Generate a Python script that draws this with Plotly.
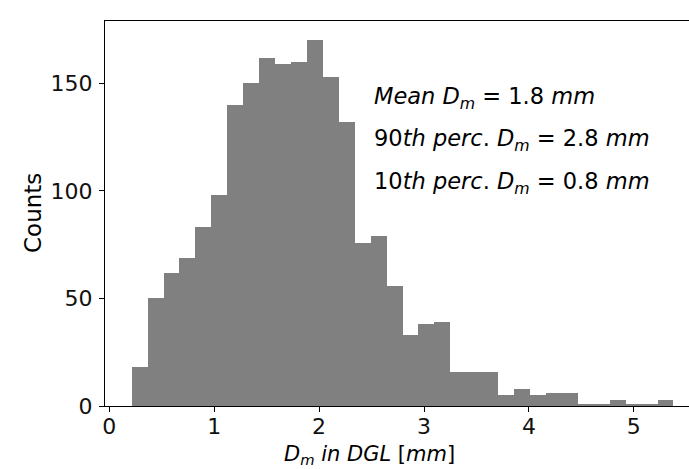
import plotly.graph_objects as go

# Histogram data
bin_start = 0.213      # left edge of first bin [mm]
bin_width = 0.1519     # bin width [mm]
counts = [18, 50, 62, 69, 83, 98, 140, 150, 162, 159, 160, 170, 153, 132,
          76, 79, 56, 33, 38, 39, 16, 16, 16, 5, 8, 5, 6, 6, 1, 1, 3, 1, 1, 3]

x_ticks = [0, 1, 2, 3, 4, 5]
y_ticks = [0, 50, 100, 150]

stats_lines = [
    "<i>Mean</i> <i>D</i><sub><i>m</i></sub> = 1.8 <i>mm</i>",
    "90<i>th</i> <i>perc</i>. <i>D</i><sub><i>m</i></sub> = 2.8 <i>mm</i>",
    "10<i>th</i> <i>perc</i>. <i>D</i><sub><i>m</i></sub> = 0.8 <i>mm</i>",
]
stats_y = [143, 123.5, 103.5]

centers = [bin_start + bin_width * (i + 0.5) for i in range(len(counts))]

FONT = "DejaVu Sans"
W, H = 689, 469
ML, MR, MT, MB = 105, 0, 21, 63

fig = go.Figure()
fig.add_trace(go.Bar(x=centers, y=counts, width=bin_width,
                     marker=dict(color="#808080", line=dict(width=0)),
                     showlegend=False))

for txt, yy in zip(stats_lines, stats_y):
    fig.add_annotation(x=2.50, y=yy, xref="x", yref="y", text=txt,
                       showarrow=False, xanchor="left", yanchor="middle",
                       font=dict(family=FONT, size=22.5, color="black"))

# x-axis label (pixel position converted to paper coords)
fig.add_annotation(x=(369 - ML) / (W - ML - MR), y=(H - 455 - MB) / (H - MT - MB),
                   xref="paper", yref="paper",
                   text="<i>D</i><sub><i>m</i></sub> <i>in</i> <i>DGL</i> [<i>mm</i>]",
                   showarrow=False, xanchor="center", yanchor="middle",
                   font=dict(family=FONT, size=21, color="black"))
# y-axis label
fig.add_annotation(x=(32.5 - ML) / (W - ML - MR), y=0.5, xref="paper", yref="paper",
                   text="Counts", textangle=-90, showarrow=False,
                   xanchor="center", yanchor="middle",
                   font=dict(family=FONT, size=23, color="black"))

fig.update_layout(
    width=W, height=H,
    margin=dict(l=ML, r=MR, t=MT, b=MB),
    plot_bgcolor="white", paper_bgcolor="white",
    bargap=0,
    font=dict(family=FONT, size=22, color="black"),
    xaxis=dict(range=[-0.041, 5.526], tickvals=x_ticks, ticktext=[str(v) for v in x_ticks],
               showgrid=False, zeroline=False, showline=True, linecolor="black",
               linewidth=1.2, mirror=True, ticks="outside", ticklen=5, tickwidth=1.2,
               tickcolor="black", ticklabelstandoff=-5,
               tickfont=dict(family=FONT, size=22, color="#111")),
    yaxis=dict(range=[0, 179], tickvals=y_ticks, ticktext=[str(v) for v in y_ticks],
               showgrid=False, zeroline=False, showline=True, linecolor="black",
               linewidth=1.2, mirror=False, ticks="outside", ticklen=5, tickwidth=1.2,
               tickcolor="black", ticklabelstandoff=2,
               tickfont=dict(family=FONT, size=22, color="#111")),
)

fig.write_html("out.html")
